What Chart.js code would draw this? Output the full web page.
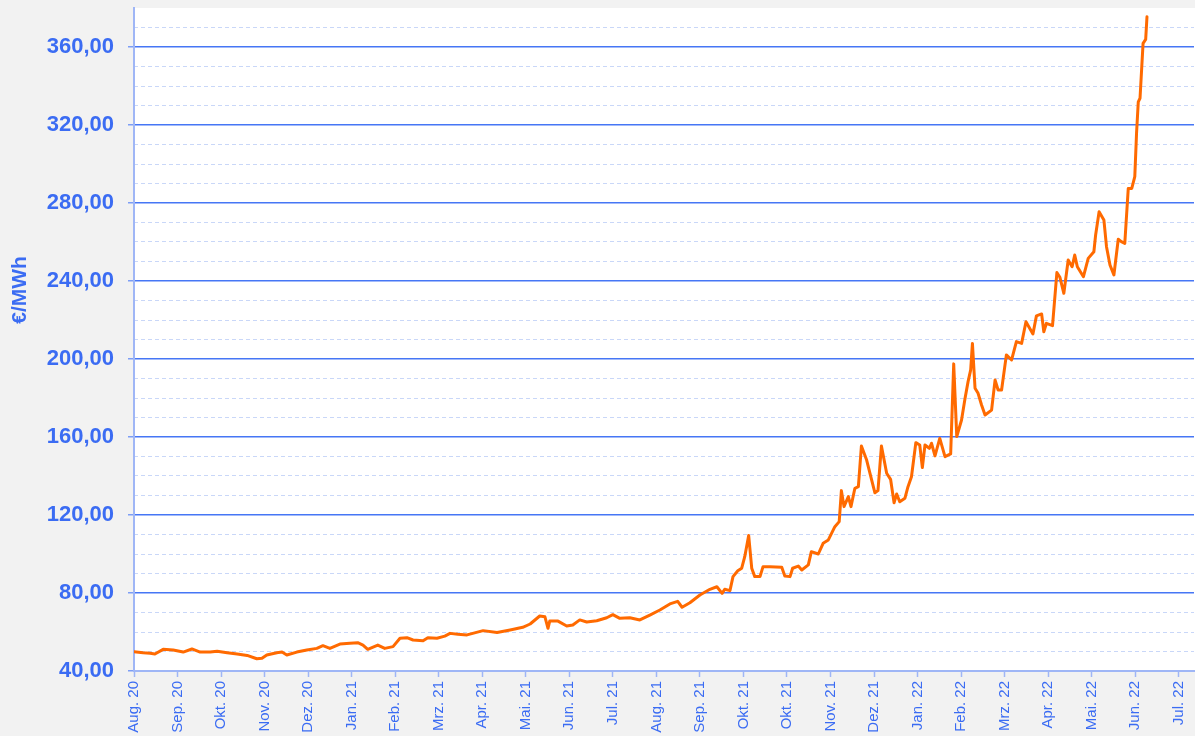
<!DOCTYPE html>
<html>
<head>
<meta charset="utf-8">
<script src="https://cdn.jsdelivr.net/npm/chart.js@4.4.1/dist/chart.umd.min.js"></script>
<style>
  html, body { margin: 0; padding: 0; background: #f2f2f2; }
  #wrap { width: 1195px; height: 736px; overflow: hidden; }
</style>
</head>
<body>
<div id="wrap"><canvas id="c" width="1195" height="736"></canvas></div>
<script>
// Month tick labels (equally spaced ticks, as in the original axis)
const tickLabels = ["Aug. 20","Sep. 20","Okt. 20","Nov. 20","Dez. 20","Jan. 21","Feb. 21","Mrz. 21","Apr. 21","Mai. 21","Jun. 21","Jul. 21","Aug. 21","Sep. 21","Okt. 21","Okt. 21","Nov. 21","Dez. 21","Jan. 22","Feb. 22","Mrz. 22","Apr. 22","Mai. 22","Jun. 22","Jul. 22"];

// Position of each price point, in months since Aug. 20
const monthPos = [0,0.21,0.37,0.48,0.67,0.90,1.13,1.33,1.52,1.75,1.91,2.14,2.37,2.60,2.82,2.94,3.05,3.28,3.40,3.51,3.74,3.97,4.20,4.34,4.50,4.73,4.96,5.14,5.26,5.37,5.60,5.76,5.95,6.11,6.27,6.41,6.64,6.75,6.96,7.14,7.26,7.44,7.65,8.02,8.34,8.64,8.93,9.10,9.32,9.44,9.51,9.55,9.74,9.94,10.08,10.24,10.40,10.63,10.86,11.00,11.16,11.39,11.62,11.85,12.08,12.31,12.49,12.59,12.77,13.00,13.23,13.39,13.51,13.57,13.69,13.76,13.87,13.96,14.03,14.12,14.19,14.26,14.38,14.45,14.61,14.88,14.95,15.07,15.13,15.26,15.34,15.49,15.56,15.72,15.83,15.95,16.10,16.20,16.25,16.31,16.41,16.47,16.56,16.64,16.71,16.83,17.02,17.09,17.17,17.29,17.38,17.46,17.52,17.59,17.71,17.78,17.86,17.96,18.05,18.11,18.17,18.27,18.32,18.40,18.51,18.63,18.76,18.83,18.90,19.01,19.09,19.16,19.22,19.26,19.32,19.39,19.47,19.55,19.70,19.78,19.85,19.93,20.04,20.16,20.27,20.39,20.49,20.65,20.73,20.85,20.90,20.96,21.10,21.20,21.27,21.36,21.46,21.55,21.61,21.67,21.81,21.92,22.05,22.09,22.17,22.28,22.34,22.42,22.51,22.61,22.68,22.76,22.84,22.92,22.99,23.03,23.07,23.11,23.18,23.24,23.27];

// Price in €/MWh
const prices = [49.9,49.4,49.1,48.7,51.1,50.8,49.7,51.3,49.7,49.7,50.1,49.4,48.7,48.0,46.3,46.5,48.2,49.4,49.7,48.2,49.7,50.8,51.6,53.0,51.6,53.8,54.2,54.5,53.3,51.1,53.3,51.6,52.5,56.8,57.1,55.9,55.5,57.1,56.8,57.9,59.3,58.8,58.5,60.7,59.7,61.0,62.4,64.1,68.2,67.8,61.9,65.6,65.6,63.1,63.6,66.2,65.1,65.8,67.3,68.9,67.0,67.3,66.2,68.7,71.3,74.4,75.7,72.7,75.0,79.0,81.9,83.2,79.8,81.9,81.2,88.4,91.4,92.7,98.6,109.5,92.7,88.4,88.4,93.5,93.5,93.2,88.7,88.4,92.7,93.8,91.8,94.4,101.2,100.0,105.5,107.2,114.0,116.6,132.5,124.3,129.4,124.3,133.7,134.5,155.4,148.2,131.4,132.5,155.4,141.4,138.3,126.3,130.8,126.8,128.6,134.5,139.6,157.1,155.9,144.3,155.9,154.2,156.8,150.3,159.3,149.9,151.3,197.5,160.2,168.7,179.8,188.4,194.4,208.0,185.0,182.4,176.4,171.3,173.8,189.2,184.1,184.1,202.1,199.5,208.9,208.0,219.1,212.8,222.1,223.1,214.0,218.3,217.1,244.3,241.9,233.7,250.8,247.3,253.3,247.3,242.2,251.6,255.0,263.6,275.5,271.3,257.6,248.2,243.1,261.4,260.2,259.3,287.5,287.5,293.5,315.7,331.9,333.7,361.9,363.9,375.5];

const yAxisTitle = "€/MWh";

const BLUE_TEXT = '#3b6cf3';
const MAJOR = '#4676f5';
const MINOR = '#c9d7f8';
const AXIS = '#9fb6f6';
const FONT = "'Liberation Sans', Arial, sans-serif";

const plotBg = {
  id: 'plotBg',
  beforeDraw(chart) {
    const {ctx, chartArea: a} = chart;
    ctx.save();
    ctx.fillStyle = '#ffffff';
    ctx.fillRect(a.left, a.top, a.right - a.left + 1, a.bottom - a.top);
    ctx.restore();
  }
};

new Chart(document.getElementById('c'), {
  type: 'line',
  data: {
    datasets: [{
      data: monthPos.map((m, i) => ({x: m, y: prices[i]})),
      borderColor: '#ff6a00',
      borderWidth: 3,
      pointRadius: 0,
      tension: 0,
      borderJoinStyle: 'round',
      borderCapStyle: 'round',
      fill: false
    }]
  },
  options: {
    responsive: false,
    animation: false,
    devicePixelRatio: 1,
    layout: { padding: { top: 8, right: 1, left: 0, bottom: 0 } },
    plugins: { legend: { display: false }, tooltip: { enabled: false } },
    scales: {
      x: {
        type: 'linear',
        min: 0,
        max: 24.35,
        afterFit: s => { s.height = 65; s.paddingLeft = 0; s.paddingRight = 0; },
        afterBuildTicks: s => { s.ticks = tickLabels.map((_, i) => ({value: i})); },
        ticks: {
          autoSkip: false,
          minRotation: 90,
          maxRotation: 90,
          padding: 4,
          color: BLUE_TEXT,
          font: { family: FONT, size: 15 },
          callback: (v) => tickLabels[v]
        },
        grid: { drawOnChartArea: false, drawTicks: true, tickLength: 6, tickColor: AXIS, color: AXIS, tickWidth: 1.5 },
        border: { display: true, color: AXIS, width: 2 }
      },
      yMinor: {
        type: 'linear',
        position: 'left',
        min: 40,
        max: 380,
        afterFit: s => { s.width = 0; s.paddingTop = 0; s.paddingBottom = 0; },
        ticks: { display: false, stepSize: 10 },
        grid: {
          drawTicks: false,
          color: c => (c.tick && (c.tick.value % 40 === 0 || c.tick.value === 380)) ? 'rgba(0,0,0,0)' : MINOR,
          lineWidth: 1,
          borderDash: [4, 3]
        },
        border: { display: false, dash: [4, 3], dashOffset: 0 }
      },
      y: {
        type: 'linear',
        position: 'left',
        min: 40,
        max: 380,
        afterFit: s => { s.width = 134; s.paddingTop = 0; s.paddingBottom = 0; },
        ticks: {
          stepSize: 40,
          includeBounds: false,
          padding: 14,
          color: BLUE_TEXT,
          font: { family: FONT, size: 22, weight: 'bold' },
          callback: v => v.toFixed(2).replace('.', ',')
        },
        grid: {
          color: c => (c.tick && c.tick.value === 40) ? 'rgba(0,0,0,0)' : MAJOR,
          lineWidth: 1.5,
          tickLength: 6,
          tickColor: '#7d9ef6',
          tickWidth: 1.5
        },
        border: { display: true, color: AXIS, width: 2 },
        title: {
          display: true,
          text: '\u00a0'.repeat(17) + yAxisTitle,
          color: BLUE_TEXT,
          font: { family: FONT, size: 21, weight: 'bold' },
          padding: { top: 8, bottom: 0 }
        }
      }
    }
  },
  plugins: [plotBg]
});
</script>
</body>
</html>
